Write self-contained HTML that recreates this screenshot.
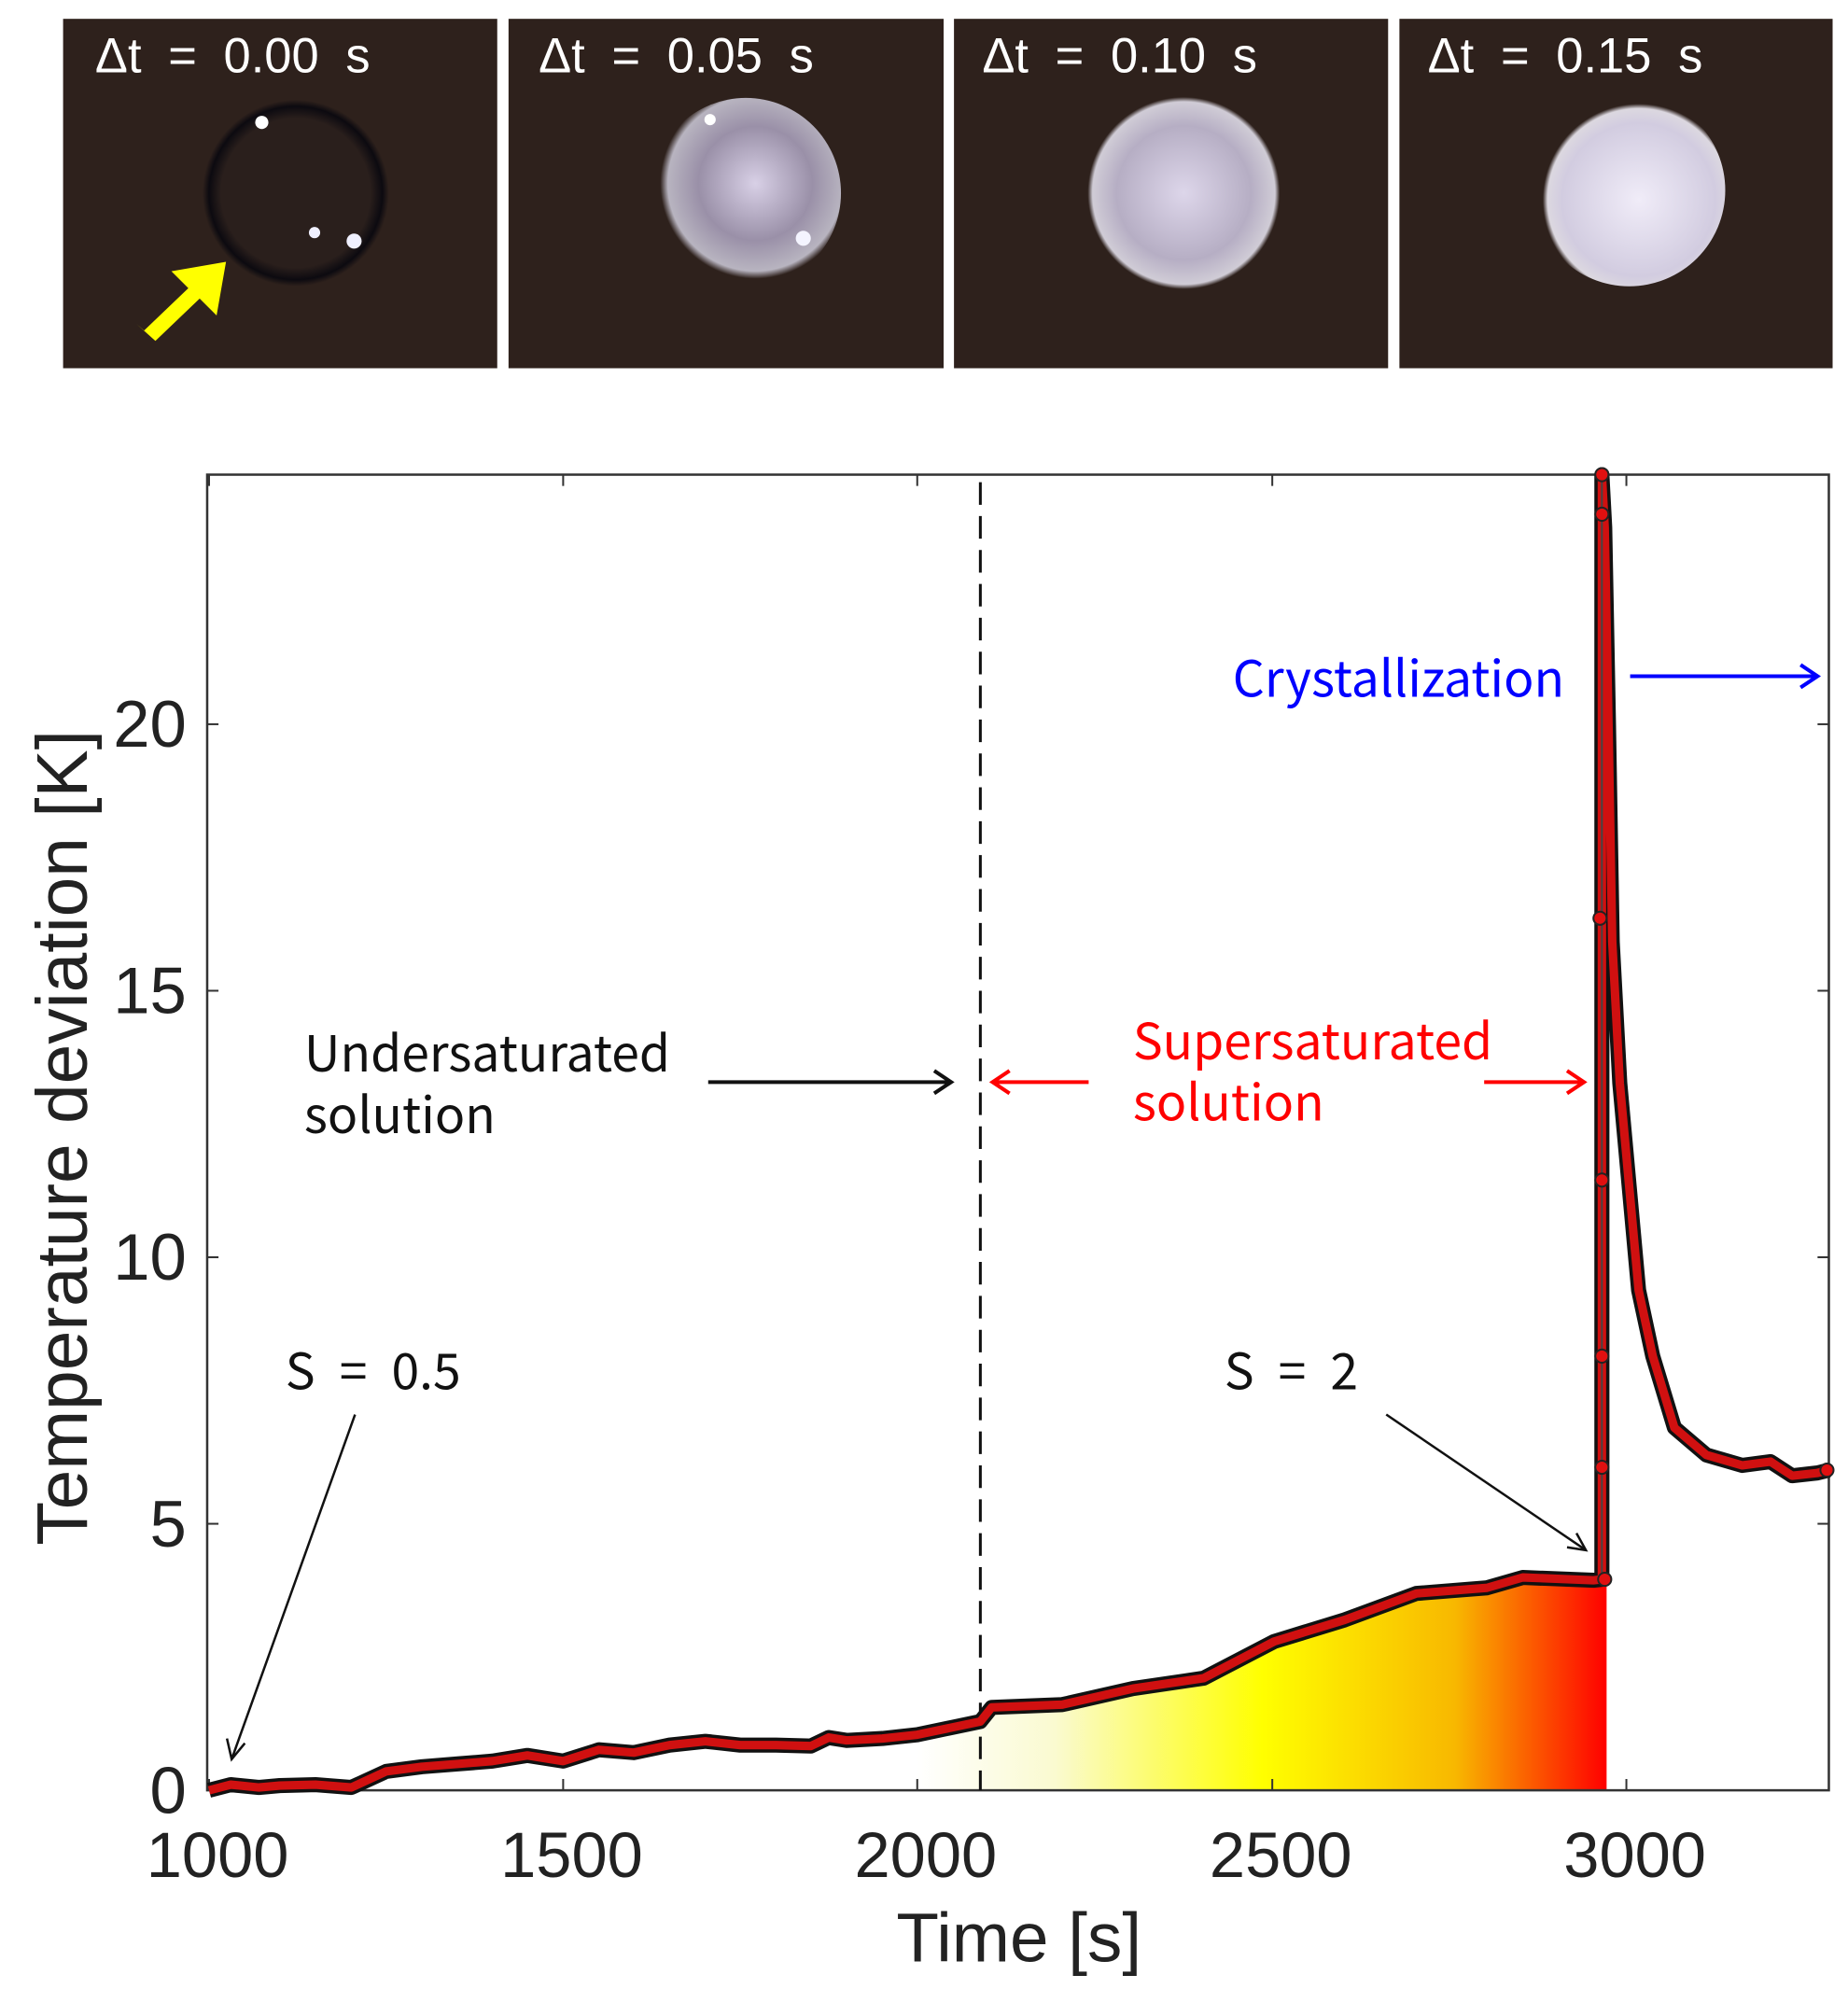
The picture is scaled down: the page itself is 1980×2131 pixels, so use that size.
<!DOCTYPE html>
<html><head><meta charset="utf-8"><style>
html,body{margin:0;padding:0;background:#fff;}
svg{display:block;}
</style></head><body>
<svg width="1980" height="2131" viewBox="0 0 1980 2131" xmlns="http://www.w3.org/2000/svg">
<defs>
<radialGradient id="d1" cx="50%" cy="50%" r="50%"><stop offset="0.8" stop-color="#2a1f1c"/><stop offset="0.93" stop-color="#0c0a10"/><stop offset="1" stop-color="#2e211c"/></radialGradient>
<radialGradient id="d2" cx="55%" cy="45%" r="50%"><stop offset="0" stop-color="#d8d0e6"/><stop offset="0.6" stop-color="#9a90a8"/><stop offset="0.92" stop-color="#b8b4c0"/><stop offset="1" stop-color="#2e211c"/></radialGradient>
<radialGradient id="d3" cx="50%" cy="50%" r="50%"><stop offset="0" stop-color="#ddd6ea"/><stop offset="0.7" stop-color="#b6aec4"/><stop offset="0.95" stop-color="#d0ccd6"/><stop offset="1" stop-color="#2e211c"/></radialGradient>
<radialGradient id="d4" cx="55%" cy="55%" r="50%"><stop offset="0" stop-color="#f0ecf8"/><stop offset="0.8" stop-color="#d2cce0"/><stop offset="0.95" stop-color="#dcd8e0"/><stop offset="1" stop-color="#2e211c"/></radialGradient>
<linearGradient id="fillg" x1="974" y1="0" x2="1706" y2="0" gradientUnits="userSpaceOnUse">
<stop offset="0" stop-color="#ffffff"/><stop offset="0.2" stop-color="#fafad0"/><stop offset="0.5" stop-color="#ffff00"/><stop offset="0.78" stop-color="#f8b800"/><stop offset="1" stop-color="#ff0000"/></linearGradient>
</defs>
<g transform="scale(1.009)">
<rect x="67" y="20" width="461" height="371" fill="#2e211c"/>
<rect x="540" y="20" width="462" height="371" fill="#2e211c"/>
<rect x="1013" y="20" width="461" height="371" fill="#2e211c"/>
<rect x="1486" y="20" width="460" height="371" fill="#2e211c"/>
<circle cx="314" cy="205" r="99" fill="url(#d1)"/>
<circle cx="278" cy="130" r="7" fill="#fff"/><circle cx="334" cy="247" r="6" fill="#f0f0ff"/><circle cx="376" cy="256" r="8" fill="#f0f0ff"/>
<circle cx="792" cy="205" r="101" fill="url(#d2)"/>
<circle cx="754" cy="127" r="6" fill="#fff"/><circle cx="853" cy="253" r="8" fill="#f4f4ff"/>
<circle cx="1257" cy="205" r="102" fill="url(#d3)"/>
<circle cx="1730" cy="202" r="102" fill="url(#d4)"/>
<polygon points="145,344 165,362 212,317 230,335 240,278 182,288 200,306 153,351" fill="#ffff00"/>
<g font-family="'Liberation Sans','Noto Sans CJK KR',sans-serif" font-size="52" fill="#fff" word-spacing="14">
<text x="101" y="77">Δt = 0.00 s</text>
<text x="572" y="77">Δt = 0.05 s</text>
<text x="1043" y="77">Δt = 0.10 s</text>
<text x="1516" y="77">Δt = 0.15 s</text>
</g>
<polygon fill="url(#fillg)" points="974,1842 1041,1828 1053,1813 1128,1810 1203,1793 1278,1782 1353,1743 1428,1720 1504,1692 1579,1686 1617,1675 1692,1678 1706,1678 1706,1901 974,1901"/>
<rect x="220" y="504" width="1722" height="1397" fill="none" stroke="#333" stroke-width="2.5"/>
<g stroke="#333" stroke-width="2">
<line x1="222" y1="1901" x2="222" y2="1889"/><line x1="598" y1="1901" x2="598" y2="1889"/><line x1="974" y1="1901" x2="974" y2="1889"/><line x1="1351" y1="1901" x2="1351" y2="1889"/><line x1="1727" y1="1901" x2="1727" y2="1889"/>
<line x1="222" y1="504" x2="222" y2="516"/><line x1="598" y1="504" x2="598" y2="516"/><line x1="974" y1="504" x2="974" y2="516"/><line x1="1351" y1="504" x2="1351" y2="516"/><line x1="1727" y1="504" x2="1727" y2="516"/>
<line x1="220" y1="1618" x2="232" y2="1618"/><line x1="220" y1="1335" x2="232" y2="1335"/><line x1="220" y1="1052" x2="232" y2="1052"/><line x1="220" y1="769" x2="232" y2="769"/>
<line x1="1942" y1="1618" x2="1930" y2="1618"/><line x1="1942" y1="1335" x2="1930" y2="1335"/><line x1="1942" y1="1052" x2="1930" y2="1052"/><line x1="1942" y1="769" x2="1930" y2="769"/>
</g>
<g font-family="'Liberation Sans',sans-serif" font-size="68" fill="#222" text-anchor="middle">
<text x="231" y="1993">1000</text><text x="607" y="1993">1500</text><text x="983" y="1993">2000</text><text x="1360" y="1993">2500</text><text x="1736" y="1993">3000</text>
<text x="1082" y="2083" font-size="74">Time [s]</text>
</g>
<g font-family="'Liberation Sans',sans-serif" font-size="70" fill="#222" text-anchor="end">
<text x="198" y="1925">0</text><text x="198" y="1642">5</text><text x="198" y="1359">10</text><text x="198" y="1076">15</text><text x="198" y="793">20</text>
</g>
<text transform="translate(92,1208) rotate(-90)" font-family="'Liberation Sans',sans-serif" font-size="76" fill="#222" text-anchor="middle">Temperature deviation [K]</text>
<line x1="1041" y1="512" x2="1041" y2="1901" stroke="#111" stroke-width="3" stroke-dasharray="24,12"/>
<polyline fill="none" stroke="#111" stroke-width="16" stroke-linejoin="round" points="222,1901 245,1895 275,1898 297,1896 335,1895 373,1898 410,1881 448,1876 486,1873 523,1870 560,1864 598,1870 636,1858 673,1861 711,1853 749,1849 786,1853 824,1853 861,1854 880,1845 899,1848 937,1846 974,1842 1041,1828 1053,1813 1128,1810 1203,1793 1278,1782 1353,1743 1428,1720 1504,1692 1579,1686 1617,1675 1692,1678 1701,1677 1701,504 1704,560 1708,769 1712,1000 1720,1150 1730,1260 1740,1370 1755,1440 1778,1516 1812,1545 1850,1556 1880,1552 1903,1567 1930,1564 1942,1561"/>
<polyline fill="none" stroke="#d01010" stroke-width="9" stroke-linejoin="round" points="222,1901 245,1895 275,1898 297,1896 335,1895 373,1898 410,1881 448,1876 486,1873 523,1870 560,1864 598,1870 636,1858 673,1861 711,1853 749,1849 786,1853 824,1853 861,1854 880,1845 899,1848 937,1846 974,1842 1041,1828 1053,1813 1128,1810 1203,1793 1278,1782 1353,1743 1428,1720 1504,1692 1579,1686 1617,1675 1692,1678 1701,1677 1701,504 1704,560 1708,769 1712,1000 1720,1150 1730,1260 1740,1370 1755,1440 1778,1516 1812,1545 1850,1556 1880,1552 1903,1567 1930,1564 1942,1561"/>
<line x1="1701" y1="504" x2="1701" y2="1677" stroke="#444" stroke-width="2"/>
<g fill="#e01010" stroke="#222" stroke-width="2">
<circle cx="1701" cy="504" r="7"/><circle cx="1701" cy="546" r="7"/><circle cx="1701" cy="1253" r="7"/><circle cx="1701" cy="1440" r="7"/><circle cx="1701" cy="1558" r="7"/><circle cx="1704" cy="1677" r="7"/><circle cx="1699" cy="975" r="7"/><circle cx="1940" cy="1561" r="7"/>
</g>
<g font-family="'Noto Sans CJK KR','Liberation Sans',sans-serif" font-size="53">
<text x="323" y="1138" fill="#111">Undersaturated</text>
<text x="323" y="1203" fill="#111">solution</text>
<text x="1203" y="1125" fill="#f00">Supersaturated</text>
<text x="1203" y="1190" fill="#f00">solution</text>
<text x="1309" y="740" fill="#00f">Crystallization</text>
<text x="303" y="1475" fill="#111" word-spacing="14">S = 0.5</text>
<text x="1300" y="1475" fill="#111" word-spacing="14">S = 2</text>
</g>
<g fill="none" stroke-width="4">
<path d="M752,1149 H1010 M992,1137 L1010,1149 L992,1161" stroke="#111"/>
<path d="M1156,1149 H1054 M1072,1137 L1054,1149 L1072,1161" stroke="#f00"/>
<path d="M1576,1149 H1682 M1664,1137 L1682,1149 L1664,1161" stroke="#f00"/>
<path d="M1731,718 H1930 M1912,706 L1930,718 L1912,730" stroke="#00f"/>
</g>
<g stroke="#111" stroke-width="2.5" fill="none">
<line x1="377" y1="1502" x2="246" y2="1868"/><path d="M241,1846 L246,1868 L260,1851"/>
<line x1="1472" y1="1502" x2="1684" y2="1646"/><path d="M1664,1643 L1684,1646 L1674,1628"/>
</g>
</g>
</svg>
</body></html>
